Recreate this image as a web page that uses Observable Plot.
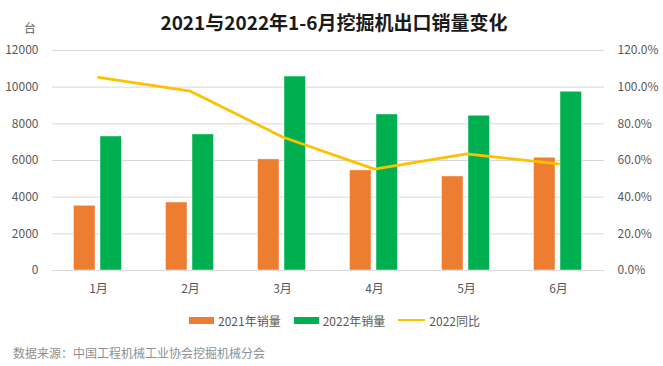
<!DOCTYPE html>
<html>
<head>
<meta charset="utf-8">
<script src="https://cdn.jsdelivr.net/npm/d3@7"></script>
<script src="https://cdn.jsdelivr.net/npm/@observablehq/plot@0.6"></script>
<style>
  html, body { margin: 0; padding: 0; background: #fff; }
  #wrap { position: relative; width: 663px; height: 366px; font-family: "Noto Sans CJK SC", "Noto Sans", sans-serif; overflow: hidden; }
  #title { height: 44px; line-height: 44px; text-align: center; font-size: 19px; font-weight: bold; color: #1a1a1a; padding-left: 5px; }
  #unit { position: absolute; left: 24px; top: 19px; font-size: 12px; line-height: 18px; color: #595959; }
  #legend { height: 40px; display: flex; align-items: center; justify-content: center; font-size: 12px; color: #595959; padding-left: 6px; box-sizing: border-box; }
  .item { display: flex; align-items: center; margin: 0 6.5px; }
  .sw { display: inline-block; width: 25px; height: 7px; margin-right: 4px; }
  .ln { display: inline-block; width: 27px; height: 2.5px; margin-right: 4px; }
  #caption { height: 26px; line-height: 26px; padding-left: 13px; font-size: 12px; color: #8f8f8f; }
</style>
</head>
<body>
<div id="wrap">
  <div id="title">2021与2022年1-6月挖掘机出口销量变化</div>
  <div id="unit">台</div>
  <div id="chart"></div>
  <div id="legend"></div>
  <div id="caption">数据来源：中国工程机械工业协会挖掘机械分会</div>
</div>
<script>
const months = ["1月", "2月", "3月", "4月", "5月", "6月"];
const sales2021 = [3530, 3710, 6060, 5460, 5130, 6150];
const sales2022 = [7310, 7420, 10580, 8510, 8440, 9750];
const yoy2022 = [105.4, 97.8, 72.8, 55.3, 63.6, 58.2]; // percent
const leftTicks = [0, 2000, 4000, 6000, 8000, 10000, 12000];
const seriesNames = ["2021年销量", "2022年销量", "2022同比"];
const colors = ["#ED7D31", "#00B050", "#FFC000"];

const rows = months.map((m, i) => ({month: m, v2021: sales2021[i], v2022: sales2022[i], yoy: yoy2022[i]}));

const chart = Plot.plot({
  width: 663,
  height: 256,
  marginTop: 6,
  marginBottom: 30,
  marginLeft: 52,
  marginRight: 59,
  style: {fontFamily: "Noto Sans CJK SC, Noto Sans, sans-serif", fontSize: "12px", color: "#595959", background: "transparent", overflow: "visible"},
  x: {type: "band", domain: months, padding: 0, label: null},
  y: {domain: [0, 12000], label: null},
  marks: [
    Plot.gridY(leftTicks, {stroke: "#d9d9d9", strokeOpacity: 1}),
    Plot.axisY(leftTicks, {anchor: "left", tickSize: 0, tickPadding: 14, tickFormat: d => String(d), label: null, fill: "#595959"}),
    Plot.axisY(leftTicks, {anchor: "right", tickSize: 0, tickPadding: 13, tickFormat: d => (d / 100).toFixed(1) + "%", label: null, fill: "#595959"}),
    Plot.axisX({tickSize: 0, tickPadding: 14, label: null, fill: "#595959"}),
    Plot.barY(rows, {x: "month", y: "v2021", fill: colors[0], insetLeft: 21.5, insetRight: 49, stroke: "#fff", strokeOpacity: 0.6, strokeWidth: 0.75}),
    Plot.barY(rows, {x: "month", y: "v2022", fill: colors[1], insetLeft: 48, insetRight: 22.5, stroke: "#fff", strokeOpacity: 0.6, strokeWidth: 0.75}),
    Plot.lineY(rows, {x: "month", y: d => d.yoy * 100, stroke: colors[2], strokeWidth: 2.75})
  ]
});
document.getElementById("chart").appendChild(chart);

const legend = document.getElementById("legend");
seriesNames.forEach((name, i) => {
  const item = document.createElement("span");
  item.className = "item";
  const sw = document.createElement("span");
  sw.className = i < 2 ? "sw" : "ln";
  sw.style.background = colors[i];
  const t = document.createElement("span");
  t.textContent = name;
  item.appendChild(sw);
  item.appendChild(t);
  legend.appendChild(item);
});
</script>
</body>
</html>
